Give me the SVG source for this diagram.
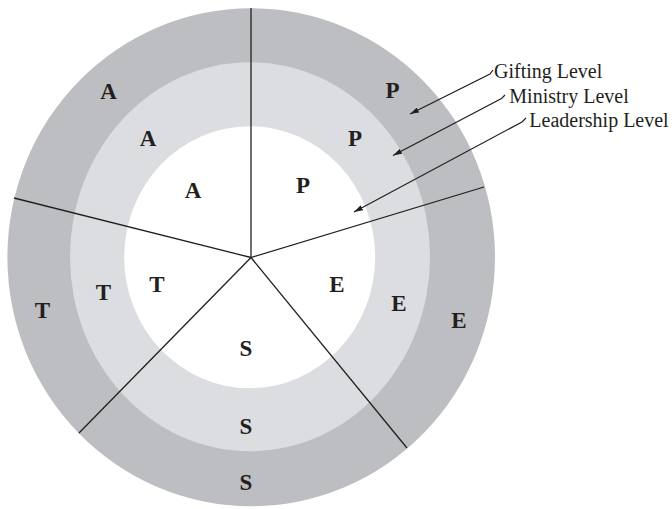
<svg xmlns="http://www.w3.org/2000/svg" width="672" height="509" viewBox="0 0 672 509">
<style>
.ring-outer{fill:#bdbec1}
.ring-mid{fill:#dcdde0}
.ring-inner{fill:#ffffff}
.spoke{stroke:#231f20;stroke-width:1.3;fill:none}
.lead{stroke:#231f20;stroke-width:1.2;fill:none;marker-end:url(#arr)}
.let{font-family:"Liberation Serif","Times New Roman",serif;font-weight:bold;font-size:23px;fill:#231f20;text-anchor:middle}
.lbl{font-family:"Liberation Serif","Times New Roman",serif;font-size:20px;fill:#231f20}
</style>
<defs>
<marker id="arr" viewBox="0 0 10 6" refX="10" refY="3" markerWidth="9" markerHeight="5.4" markerUnits="userSpaceOnUse" orient="auto">
<path d="M0,0 L10,3 L0,6 Z" fill="#231f20"/>
</marker>
</defs>
<rect width="672" height="509" fill="#ffffff"/>
<g id="rings">
<ellipse class="ring-outer" cx="251.2" cy="257.2" rx="243.8" ry="249"/>
<ellipse class="ring-mid" cx="250" cy="256.8" rx="180" ry="194.5"/>
<ellipse class="ring-inner" cx="249.7" cy="257.2" rx="125.5" ry="131"/>
</g>
<g id="connectors">
<line class="spoke" x1="251" y1="257.5" x2="251" y2="8"/>
<line class="spoke" x1="251" y1="257.5" x2="484" y2="187"/>
<line class="spoke" x1="251" y1="257.5" x2="14" y2="198"/>
<line class="spoke" x1="251" y1="257.5" x2="79" y2="433"/>
<line class="spoke" x1="251" y1="257.5" x2="407" y2="448"/>
<polyline class="lead" points="493,70 490,74 410,114"/>
<polyline class="lead" points="505,95 501.5,98.5 393,155.5"/>
<polyline class="lead" points="526,118 522,122 354,212"/>
</g>
<g id="sector-A">
<text class="let" x="108.5" y="98.5">A</text>
<text class="let" x="148" y="145.5">A</text>
<text class="let" x="193" y="198">A</text>
</g>
<g id="sector-P">
<text class="let" x="392.5" y="98.3">P</text>
<text class="let" x="355" y="145.5">P</text>
<text class="let" x="303" y="193">P</text>
</g>
<g id="sector-E">
<text class="let" x="337" y="292">E</text>
<text class="let" x="399" y="311">E</text>
<text class="let" x="459" y="328">E</text>
</g>
<g id="sector-S">
<text class="let" x="246" y="356">S</text>
<text class="let" x="246" y="434">S</text>
<text class="let" x="246" y="490">S</text>
</g>
<g id="sector-T">
<text class="let" x="42.3" y="318">T</text>
<text class="let" x="103.3" y="299.5">T</text>
<text class="let" x="157" y="292">T</text>
</g>
<g id="label-gifting"><text class="lbl" x="494" y="78.3">Gifting Level</text></g>
<g id="label-ministry"><text class="lbl" x="509.3" y="102.7">Ministry Level</text></g>
<g id="label-leadership"><text class="lbl" x="529.3" y="126.7">Leadership Level</text></g>
</svg>
